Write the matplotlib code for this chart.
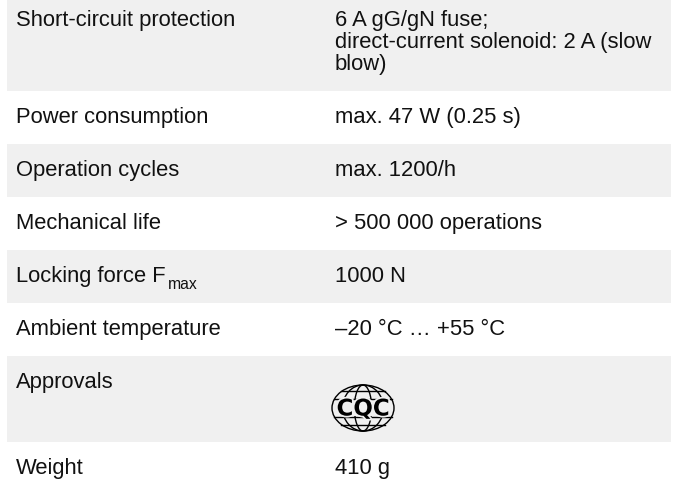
import matplotlib
matplotlib.use("Agg")
import matplotlib.pyplot as plt
import matplotlib.patheffects as pe
import numpy as np
from matplotlib.patches import Ellipse, Rectangle

plt.rcParams["font.family"] = ["Liberation Sans", "DejaVu Sans"]

# table content
labels = [
    "Short-circuit protection",
    "Power consumption",
    "Operation cycles",
    "Mechanical life",
    "Locking force F",
    "Ambient temperature",
    "Approvals",
    "Weight",
]
label_subscripts = ["", "", "", "", "max", "", "", ""]
values = [
    ["6 A gG/gN fuse;", "direct-current solenoid: 2 A (slow", "blow)"],
    ["max. 47 W (0.25 s)"],
    ["max. 1200/h"],
    ["> 500 000 operations"],
    ["1000 N"],
    ["\u201320 \u00b0C \u2026 +55 \u00b0C"],
    [],  # logo row
    ["410 g"],
]
logo_row = "Approvals"

W, H = 677, 484
SHADE = "#f0f0f0"
TEXT = "#111111"
FS = 15.8
ROW_H = 53
LINE_H = 22
LOGO_ROW_H = 86

fig = plt.figure(figsize=(W / 100, H / 100), dpi=100)
ax = fig.add_axes([0, 0, 1, 1])
ax.set_xlim(0, W)
ax.set_ylim(H, 0)
ax.axis("off")
renderer = fig.canvas.get_renderer()


def draw_cqc(ax, cx, cy, a=31, b=23):
    lw = 1.0
    ax.add_patch(Ellipse((cx, cy), 2 * a, 2 * b, fill=False, lw=lw, ec="black"))
    for frac in (0.66, 0.28):
        ax.add_patch(Ellipse((cx, cy), 2 * a * frac, 2 * b, fill=False, lw=lw, ec="black"))
    for dy in (-0.72, -0.38, 0.38, 0.72):
        half = a * np.sqrt(1 - dy ** 2)
        ax.plot([cx - half, cx + half], [cy + dy * b, cy + dy * b], color="black", lw=lw)
    ax.add_patch(Rectangle((cx - 0.85 * a, cy - 0.36 * b), 1.7 * a, 0.72 * b, fc=SHADE, ec="none"))
    ax.text(cx, cy + 1, "CQC", fontsize=16.5, fontweight="heavy", color="black",
            family="DejaVu Sans", ha="center", va="center",
            path_effects=[pe.withStroke(linewidth=2.5, foreground=SHADE)])


top = -6
for i, (lab, sub, vals) in enumerate(zip(labels, label_subscripts, values)):
    if lab == logo_row:
        h = LOGO_ROW_H
    else:
        h = ROW_H + LINE_H * (max(len(vals), 1) - 1)
    if i % 2 == 0:
        ax.add_patch(Rectangle((7, top), 664, h, fc=SHADE, ec="none"))
    base = top + 32
    t = ax.text(16, base, lab, fontsize=FS, color=TEXT, va="baseline", ha="left")
    if sub:
        bb = t.get_window_extent(renderer)
        x_end = ax.transData.inverted().transform((bb.x1, bb.y0))[0]
        ax.text(x_end + 2, base + 7, sub, fontsize=FS * 0.72, color=TEXT,
                va="baseline", ha="left")
    for k, line in enumerate(vals):
        ax.text(335, base + k * LINE_H, line, fontsize=FS, color=TEXT,
                va="baseline", ha="left")
    if lab == logo_row:
        draw_cqc(ax, 363, top + 52)
    top += h

fig.savefig("out.png", dpi=100)
